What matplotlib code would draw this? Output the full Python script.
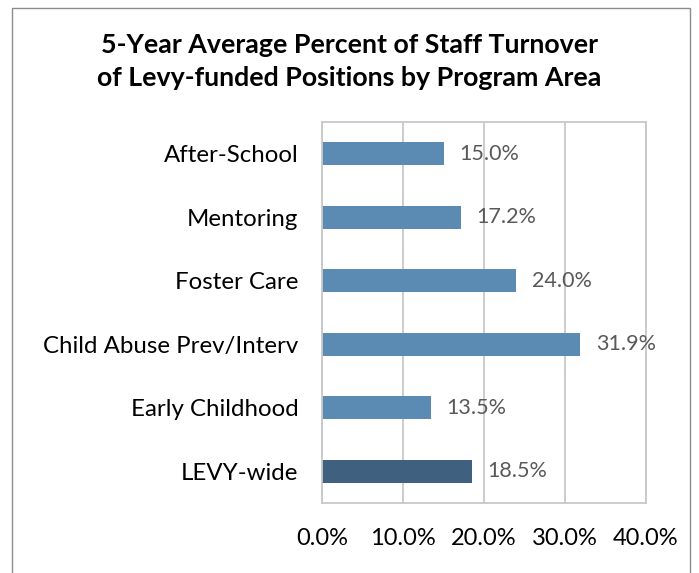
import matplotlib
matplotlib.use("Agg")
import matplotlib.pyplot as plt
from matplotlib.patches import Rectangle

categories = ["After-School", "Mentoring", "Foster Care", "Child Abuse Prev/Interv",
              "Early Childhood", "LEVY-wide"]
values = [15.0, 17.2, 24.0, 31.9, 13.5, 18.5]
bar_colors = ["#5B8BB3", "#5B8BB3", "#5B8BB3", "#5B8BB3", "#5B8BB3", "#3F617F"]
xticks = [0, 10, 20, 30, 40]

plt.rcParams["font.family"] = ["Lato", "DejaVu Sans"]

W, H = 699, 573
fig = plt.figure(figsize=(W / 100, H / 100), dpi=100)

# outer chart border (cut off at bottom)
fig.patches.append(Rectangle((12 / W, -0.01), (690 - 12) / W, (H - 8) / H + 0.01,
                             transform=fig.transFigure, fill=False,
                             edgecolor="#8C8C8C", linewidth=1.0))

ax = fig.add_axes([322 / W, 1 - 503 / H, (646 - 322) / W, (503 - 122) / H])
y = list(range(len(categories)))[::-1]
ax.barh(y, values, height=0.36, color=bar_colors)
ax.set_xlim(0, 40)
ax.set_ylim(-0.5, len(categories) - 0.5)

for yi, v in zip(y, values):
    ax.text(v + 1.9, yi, f"{v:.1f}%", va="center", ha="left",
            fontsize=15.5, color="#595959")

ax.set_yticks(y)
ax.set_yticklabels(categories, fontsize=17.3, color="#000000")
ax.set_xticks(xticks)
ax.set_xticklabels([f"{t:.1f}%" for t in xticks], fontsize=17, color="#000000")
ax.tick_params(axis="y", length=0, pad=17)
ax.tick_params(axis="x", length=0, pad=18)

ax.grid(axis="x", color="#C8C8C8", linewidth=1.3)
ax.set_axisbelow(True)
for s in ax.spines.values():
    s.set_color("#C8C8C8")
    s.set_linewidth(1.3)

fig.text(0.5, 1 - 45 / H, "5-Year Average Percent of Staff Turnover",
         ha="center", va="center", fontsize=19.3, fontweight="bold")
fig.text(0.5, 1 - 78 / H, "of Levy-funded Positions by Program Area",
         ha="center", va="center", fontsize=19.3, fontweight="bold")

fig.savefig("out.png", dpi=100, facecolor="white")
